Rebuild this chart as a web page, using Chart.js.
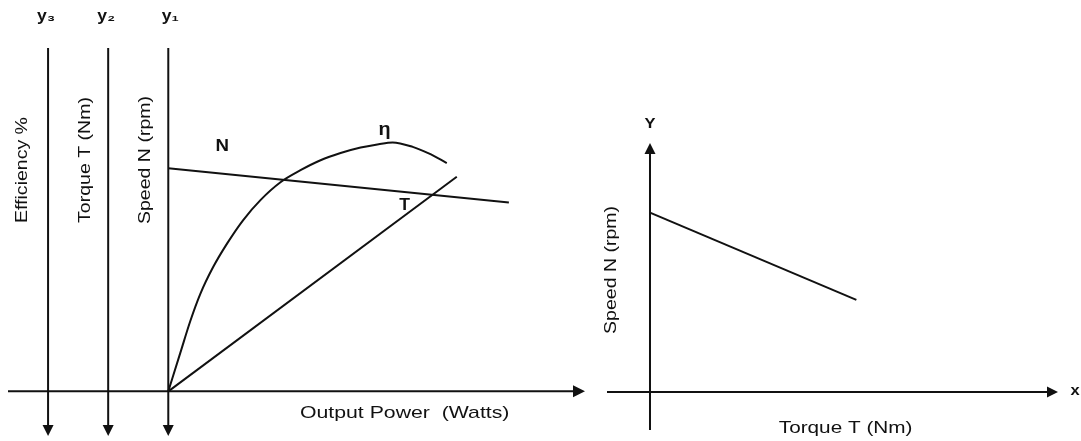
<!DOCTYPE html>
<html>
<head>
<meta charset="utf-8">
<script src="https://cdn.jsdelivr.net/npm/chart.js@4"></script>
<style>
    html, body { margin: 0; padding: 0; background: #fff; }
    #wrap { position: relative; width: 1081px; height: 441px; }
    #leftBox { position: absolute; left: 0; top: 0; width: 600px; height: 441px; }
    #rightBox { position: absolute; left: 600px; top: 0; width: 481px; height: 441px; }
</style>
</head>
<body>
<div id="wrap">
    <div id="leftBox"><canvas id="perfChart"></canvas></div>
    <div id="rightBox"><canvas id="speedTorqueChart"></canvas></div>
</div>
<script>
// Performance characteristics (arbitrary units)
const powerEta = [0, 0.3, 0.55, 0.8, 1.12, 1.47, 1.87, 2.3, 2.8, 3.3, 3.8, 4.3, 4.8, 5.25, 5.6, 6.1, 6.5, 6.95];
const efficiency = [0, 1.12, 2.05, 2.84, 3.62, 4.31, 4.99, 5.57, 6.09, 6.44, 6.73, 6.94, 7.1, 7.2, 7.25, 7.12, 6.93, 6.65];
const powerN = [0, 8.5];
const speedN = [6.5, 5.5];
const powerT = [0, 7.2];
const torqueT = [0, 6.25];

// Speed-torque characteristic
const torqueRight = [0, 4.8];
const speedRight = [7.2, 3.7];

// Vertical axes on the left chart (x positions in power units)
const axisNames = ['y\u2083', 'y\u2082', 'y\u2081'];
const axisTitles = ['Efficiency %', 'Torque T (Nm)', 'Speed N (rpm)'];
const axisPositions = [-3, -1.5, 0];

const INK = '#111';
const FONT = '"Liberation Sans", Arial, sans-serif';

const toPoints = (xs, ys) => xs.map((x, i) => ({ x: x, y: ys[i] }));

function arrowHead(ctx, x, y, dir, size) {
    ctx.save();
    ctx.translate(x, y);
    ctx.rotate(dir);
    ctx.beginPath();
    ctx.moveTo(0, 0);
    ctx.lineTo(-size, -size * 0.5);
    ctx.lineTo(-size, size * 0.5);
    ctx.closePath();
    ctx.fill();
    ctx.restore();
}

function line(ctx, x1, y1, x2, y2) {
    ctx.beginPath();
    ctx.moveTo(x1, y1);
    ctx.lineTo(x2, y2);
    ctx.stroke();
}

// text is stretched sideways a little, like the scanned original
function text(ctx, str, x, y, size, rot, stretch, weight) {
    ctx.save();
    ctx.translate(x, y);
    if (rot) ctx.rotate(rot);
    ctx.scale(stretch || 1.22, 1);
    ctx.font = (weight || '') + ' ' + size + 'px ' + FONT;
    ctx.textAlign = 'center';
    ctx.textBaseline = 'middle';
    ctx.fillText(str, 0, 0);
    ctx.restore();
}

// Draws the axes, arrows and labels of the left sketch
const perfAxes = {
    id: 'perfAxes',
    beforeDatasetsDraw(chart) {
        const ctx = chart.ctx;
        const xs = chart.scales.x, ys = chart.scales.y;
        const area = chart.chartArea;
        const y0 = ys.getPixelForValue(0);
        ctx.save();
        ctx.strokeStyle = INK;
        ctx.fillStyle = INK;
        ctx.lineWidth = 2;

        // output power axis
        line(ctx, area.left, y0, area.right - 8, y0);
        arrowHead(ctx, area.right, y0, 0, 12);

        axisPositions.forEach((p, i) => {
            const px = xs.getPixelForValue(p);
            line(ctx, px, area.top, px, area.bottom - 8);
            arrowHead(ctx, px, area.bottom, Math.PI / 2, 11);
            text(ctx, axisNames[i], px + (i === 2 ? 2 : -2), area.top - 31, 16, 0, 1.1, 'bold');
            text(ctx, axisTitles[i], px - (i === 0 ? 25 : 23), area.top + (i === 0 ? 122 : 112), 16, -Math.PI / 2);
        });

        text(ctx, 'Output Power  (Watts)', xs.getPixelForValue(5.9), y0 + 22, 17, 0, 1.25);

        // curve labels
        text(ctx, 'N', xs.getPixelForValue(1.35), ys.getPixelForValue(7.15), 17, 0, 1.1, 'bold');
        text(ctx, '\u03b7', xs.getPixelForValue(5.4), ys.getPixelForValue(7.6), 18, 0, 1.1, 'bold');
        text(ctx, 'T', xs.getPixelForValue(5.9), ys.getPixelForValue(5.4), 16, 0, 1.1, 'bold');
        ctx.restore();
    }
};

// Draws the axes and labels of the speed-torque sketch
const stAxes = {
    id: 'stAxes',
    beforeDatasetsDraw(chart) {
        const ctx = chart.ctx;
        const xs = chart.scales.x, ys = chart.scales.y;
        const area = chart.chartArea;
        const x0 = xs.getPixelForValue(0);
        const y0 = ys.getPixelForValue(0);
        ctx.save();
        ctx.strokeStyle = INK;
        ctx.fillStyle = INK;
        ctx.lineWidth = 2;

        line(ctx, area.left, y0, area.right - 8, y0);
        arrowHead(ctx, area.right, y0, 0, 11);
        line(ctx, x0, area.bottom, x0, area.top + 8);
        arrowHead(ctx, x0, area.top, -Math.PI / 2, 11);

        text(ctx, 'Y', x0, area.top - 19, 15, 0, 1.1, 'bold');
        text(ctx, 'x', area.right + 17, y0 - 1, 15, 0, 1.1, 'bold');
        text(ctx, 'Speed N (rpm)', x0 - 38, ys.getPixelForValue(4.9), 16, -Math.PI / 2);
        text(ctx, 'Torque T (Nm)', xs.getPixelForValue(4.55), y0 + 36, 17);
        ctx.restore();
    }
};

const lineStyle = {
    borderColor: INK,
    borderWidth: 2,
    pointRadius: 0,
    showLine: true,
    fill: false
};

const hiddenScales = (xMin, xMax, yMin, yMax) => ({
    x: { type: 'linear', min: xMin, max: xMax, display: false },
    y: { type: 'linear', min: yMin, max: yMax, display: false }
});

new Chart(document.getElementById('perfChart'), {
    type: 'scatter',
    data: {
        datasets: [
            { label: 'Efficiency', data: toPoints(powerEta, efficiency), cubicInterpolationMode: 'monotone', ...lineStyle },
            { label: 'Speed', data: toPoints(powerN, speedN), ...lineStyle },
            { label: 'Torque', data: toPoints(powerT, torqueT), ...lineStyle }
        ]
    },
    options: {
        responsive: true,
        maintainAspectRatio: false,
        animation: false,
        layout: { padding: { left: 8, right: 15, top: 48, bottom: 5 } },
        scales: hiddenScales(-4, 10.4, -1.3, 10),
        plugins: { legend: { display: false }, tooltip: { enabled: false } }
    },
    plugins: [perfAxes]
});

new Chart(document.getElementById('speedTorqueChart'), {
    type: 'scatter',
    data: {
        datasets: [
            { label: 'Speed vs Torque', data: toPoints(torqueRight, speedRight), ...lineStyle }
        ]
    },
    options: {
        responsive: true,
        maintainAspectRatio: false,
        animation: false,
        layout: { padding: { left: 7, right: 23, top: 143, bottom: 11 } },
        scales: hiddenScales(-1, 9.49, -1.53, 10),
        plugins: { legend: { display: false }, tooltip: { enabled: false } }
    },
    plugins: [stAxes]
});
</script>
</body>
</html>
